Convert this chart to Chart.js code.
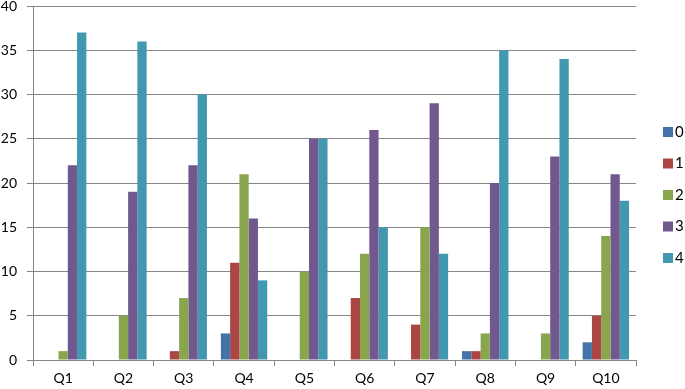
<!DOCTYPE html>
<html lang="en">
<head>
<meta charset="UTF-8">
<title>Chart</title>
<script src="https://cdn.jsdelivr.net/npm/chart.js"></script>
<style>
  body { margin: 0; background: #fff; }
</style>
</head>
<body>
<canvas id="myChart" width="685" height="389"></canvas>
<script>
const categories = ['Q1', 'Q2', 'Q3', 'Q4', 'Q5', 'Q6', 'Q7', 'Q8', 'Q9', 'Q10'];
const seriesNames = ['0', '1', '2', '3', '4'];
const s0 = [0, 0, 0, 3, 0, 0, 0, 1, 0, 2];
const s1 = [0, 0, 1, 11, 0, 7, 4, 1, 0, 5];
const s2 = [1, 5, 7, 21, 10, 12, 15, 3, 3, 14];
const s3 = [22, 19, 22, 16, 25, 26, 29, 20, 23, 21];
const s4 = [37, 36, 30, 9, 25, 15, 12, 35, 34, 18];
const yTicks = [0, 5, 10, 15, 20, 25, 30, 35, 40];

const colors = ['#4572A7', '#AA4643', '#89A54E', '#71588F', '#4198AF'];
const allSeries = [s0, s1, s2, s3, s4];

const fontFam = 'Lato, "Open Sans", sans-serif';

// legend drawn at the right side
const sideLegend = {
  id: 'sideLegend',
  afterDraw(chart) {
    const ctx = chart.ctx;
    ctx.save();
    ctx.font = '15px ' + fontFam;
    ctx.textBaseline = 'middle';
    chart.data.datasets.forEach((ds, i) => {
      const y = 132 + i * 31.5;
      ctx.fillStyle = ds.backgroundColor;
      ctx.fillRect(663, y - 5, 10, 10);
      ctx.fillStyle = '#000';
      ctx.fillText(ds.label, 675, y);
    });
    ctx.restore();
  }
};

var ctx = document.getElementById('myChart').getContext('2d');
var myChart = new Chart(ctx, {
  type: 'bar',
  data: {
    labels: categories,
    datasets: allSeries.map((d, i) => ({
      label: seriesNames[i],
      data: d,
      backgroundColor: colors[i],
      borderWidth: 0,
      categoryPercentage: 5 / 6.5,
      barPercentage: 1
    }))
  },
  options: {
    responsive: false,
    animation: false,
    layout: { padding: { top: 6, right: 49, left: 0, bottom: 0 } },
    plugins: {
      legend: { display: false },
      tooltip: { enabled: false }
    },
    scales: {
      x: {
        grid: {
          offset: true,
          drawOnChartArea: false,
          tickLength: 6,
          color: '#868686'
        },
        border: { color: '#868686' },
        ticks: {
          color: '#000',
          font: { size: 14, family: fontFam },
          padding: 4
        },
        afterFit(scale) {
          scale.height = 29;
          scale.paddingLeft = 0;
          scale.paddingRight = 0;
        }
      },
      y: {
        min: 0,
        max: 40,
        afterBuildTicks(scale) { scale.ticks = yTicks.map(v => ({ value: v })); },
        grid: {
          color: '#868686',
          tickLength: 6
        },
        border: { color: '#868686' },
        ticks: {
          color: '#000',
          font: { size: 14, family: fontFam },
          padding: 10
        },
        afterFit(scale) {
          scale.width = 33;
          scale.paddingTop = 0;
          scale.paddingBottom = 0;
        }
      }
    }
  },
  plugins: [sideLegend]
});
</script>
</body>
</html>
